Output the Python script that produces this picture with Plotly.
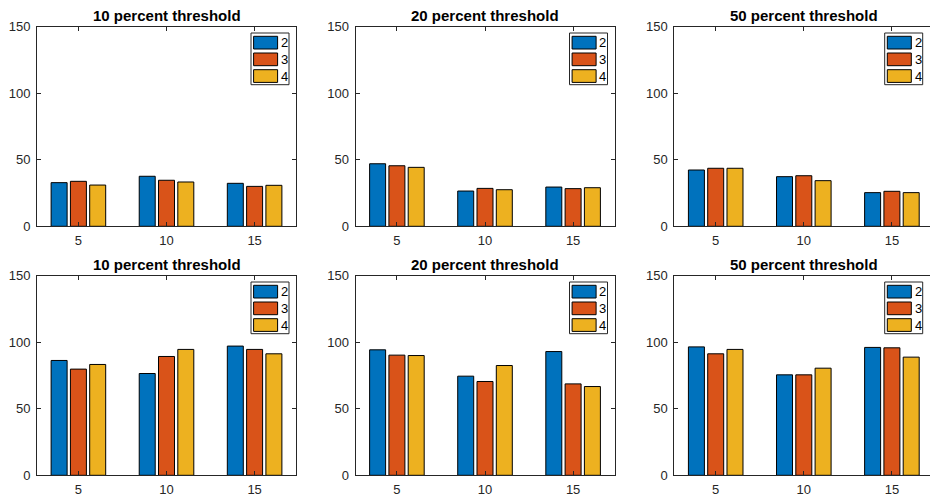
import plotly.graph_objects as go

# ---------------- data ----------------
categories = [5, 10, 15]
series_names = ["2", "3", "4"]
series_colors = ["#0072BD", "#D95319", "#EDB120"]
titles = ["10 percent threshold", "20 percent threshold", "50 percent threshold"]
y_ticks = [0, 50, 100, 150]

# top row
top10_s2 = [32.8, 37.6, 32.3]
top10_s3 = [33.8, 34.6, 30.0]
top10_s4 = [31.0, 33.3, 30.8]
top20_s2 = [47.0, 26.5, 29.5]
top20_s3 = [45.5, 28.5, 28.3]
top20_s4 = [44.3, 27.5, 29.0]
top50_s2 = [42.3, 37.3, 25.3]
top50_s3 = [43.6, 38.0, 26.3]
top50_s4 = [43.6, 34.3, 25.3]
# bottom row
bot10_s2 = [86.3, 76.5, 97.1]
bot10_s3 = [79.8, 89.3, 94.6]
bot10_s4 = [83.3, 94.6, 91.3]
bot20_s2 = [94.3, 74.5, 93.0]
bot20_s3 = [90.3, 70.5, 68.7]
bot20_s4 = [90.0, 82.5, 66.7]
bot50_s2 = [96.5, 75.5, 96.1]
bot50_s3 = [91.3, 75.5, 95.8]
bot50_s4 = [94.6, 80.5, 88.8]

panels = [
    (titles[0], [top10_s2, top10_s3, top10_s4]),
    (titles[1], [top20_s2, top20_s3, top20_s4]),
    (titles[2], [top50_s2, top50_s3, top50_s4]),
    (titles[0], [bot10_s2, bot10_s3, bot10_s4]),
    (titles[1], [bot20_s2, bot20_s3, bot20_s4]),
    (titles[2], [bot50_s2, bot50_s3, bot50_s4]),
]

# ---------------- layout geometry (pixels) ----------------
W, H = 930, 495
col_left = [37.0, 355.5, 674.3]
panel_w = 259.3
row_top = [26.7, 275.7]
panel_h = 199.6
px_per_unit = 17.62
x_lo = 2.65

INK = "#262626"
FONT = "Liberation Sans, Arial, Helvetica, sans-serif"

fig = go.Figure()
layout = dict(
    width=W, height=H,
    margin=dict(l=0, r=0, t=0, b=0, autoexpand=False),
    paper_bgcolor="white", plot_bgcolor="white",
    barmode="group", bargap=0.343, bargroupgap=0.171,
    showlegend=False,
    font=dict(family=FONT, size=13, color=INK),
)
shapes = []
annotations = []

for idx, (title, series) in enumerate(panels):
    r, c = divmod(idx, 3)
    n = idx + 1
    L = col_left[c]
    R = min(L + panel_w, W)
    T = row_top[r]
    B = T + panel_h
    w_px = R - L
    xs = "x" if n == 1 else f"x{n}"
    ys = "y" if n == 1 else f"y{n}"
    xk = "xaxis" if n == 1 else f"xaxis{n}"
    yk = "yaxis" if n == 1 else f"yaxis{n}"
    clipped = (L + panel_w) > W

    for s, vals in enumerate(series):
        fig.add_trace(go.Bar(
            x=categories, y=vals, name=series_names[s],
            xaxis=xs, yaxis=ys,
            marker=dict(color=series_colors[s], line=dict(color="black", width=1)),
            offsetgroup=str(s),
            hoverinfo="x+y+name",
        ))

    layout[xk] = dict(
        domain=[L / W, R / W], anchor=ys,
        range=[x_lo, x_lo + w_px / px_per_unit],
        tickvals=categories, ticktext=[str(v) for v in categories],
        ticks="inside", ticklen=4, tickcolor=INK, tickwidth=1,
        showline=True, linecolor=INK, linewidth=1, mirror="ticks",
        showgrid=False, zeroline=False, automargin=False,
        tickfont=dict(family=FONT, size=13, color=INK),
        ticklabelstandoff=2,
    )
    layout[yk] = dict(
        domain=[1 - B / H, 1 - T / H], anchor=xs,
        range=[0, 150], tickvals=y_ticks,
        ticks="inside", ticklen=4, tickcolor=INK, tickwidth=1,
        showline=True, linecolor=INK, linewidth=1,
        mirror=False if clipped else "ticks",
        showgrid=False, zeroline=False, automargin=False,
        tickfont=dict(family=FONT, size=13, color=INK),
        ticklabelstandoff=3,
    )

    def fx(px):
        return (px - L) / w_px

    def fy(py):
        return (B - py) / panel_h

    # title
    annotations.append(dict(
        text=f"<b>{title}</b>", xref=f"{xs} domain", yref=f"{ys} domain",
        x=fx(L + panel_w / 2), y=1, xanchor="center", yanchor="bottom",
        yshift=1, showarrow=False,
        font=dict(family=FONT, size=15, color="black"),
    ))

    # legend box (MATLAB style, top-right inside axes)
    shapes.append(dict(
        type="rect", xref=f"{xs} domain", yref=f"{ys} domain",
        x0=fx(R - 45.3), x1=fx(R - 7.3), y0=fy(T + 6.3), y1=fy(T + 58.0),
        line=dict(color=INK, width=1), fillcolor="white", layer="above",
    ))
    for s, name in enumerate(series_names):
        top_px = T + 9.6 + s * 16.7
        shapes.append(dict(
            type="rect", xref=f"{xs} domain", yref=f"{ys} domain",
            x0=fx(R - 42.7), x1=fx(R - 18.7), y0=fy(top_px + 12.7), y1=fy(top_px),
            line=dict(color="black", width=1), fillcolor=series_colors[s], layer="above",
        ))
        annotations.append(dict(
            text=name, xref=f"{xs} domain", yref=f"{ys} domain",
            x=fx(R - 17.5), y=fy(top_px + 6.35), xanchor="left", yanchor="middle",
            showarrow=False, font=dict(family=FONT, size=13, color="black"),
        ))

layout["shapes"] = shapes
layout["annotations"] = annotations
fig.update_layout(**layout)
fig.write_html(
    "out.html",
    config={"displayModeBar": False},
    post_script="document.body.style.margin='0';document.body.style.overflow='hidden';",
)
